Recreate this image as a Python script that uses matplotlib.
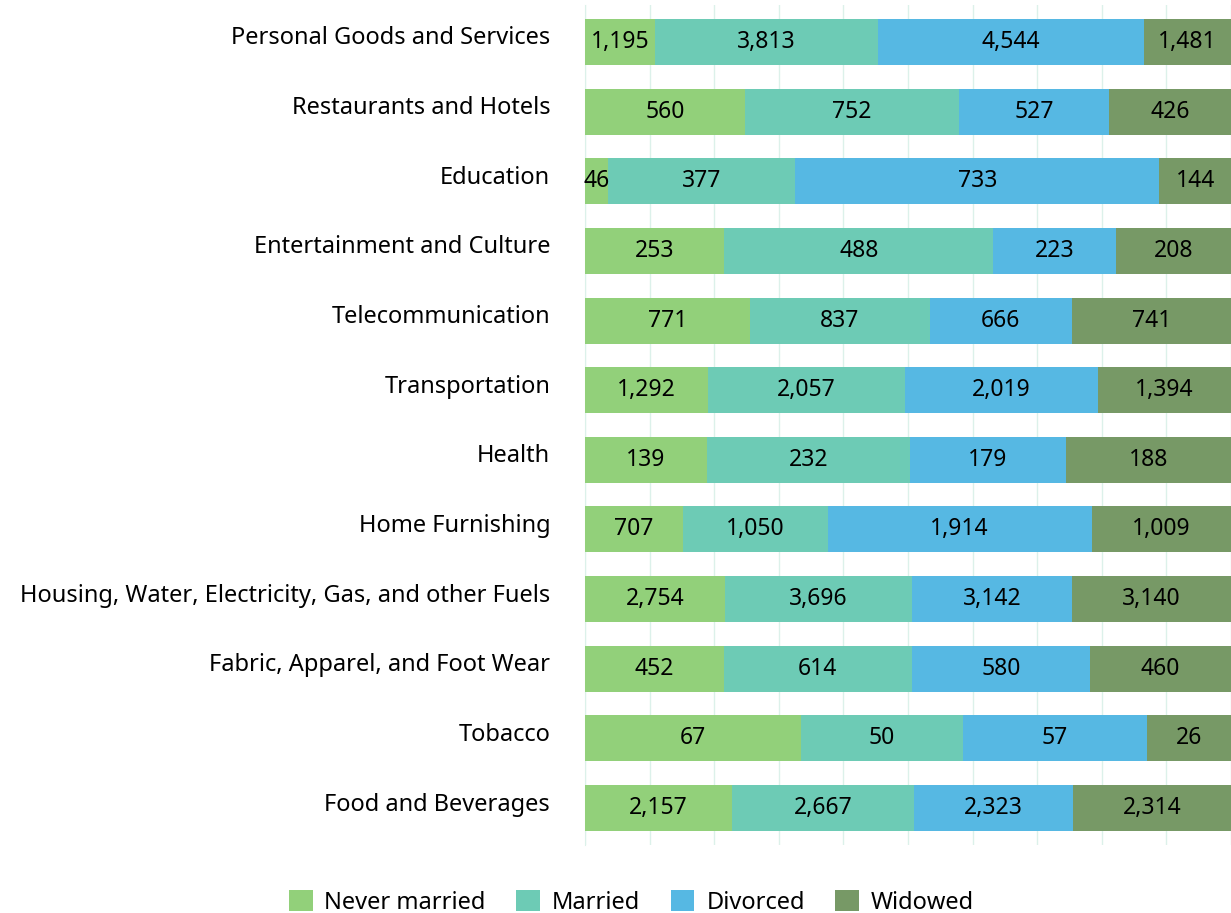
import matplotlib.pyplot as plt
import numpy as np

# categories listed bottom to top
categories = [
    "Food and Beverages",
    "Tobacco",
    "Fabric, Apparel, and Foot Wear",
    "Housing, Water, Electricity, Gas, and other Fuels",
    "Home Furnishing",
    "Health",
    "Transportation",
    "Telecommunication",
    "Entertainment and Culture",
    "Education",
    "Restaurants and Hotels",
    "Personal Goods and Services",
]

never_married = [2157, 67, 452, 2754, 707, 139, 1292, 771, 253, 46, 560, 1195]
married = [2667, 50, 614, 3696, 1050, 232, 2057, 837, 488, 377, 752, 3813]
divorced = [2323, 57, 580, 3142, 1914, 179, 2019, 666, 223, 733, 527, 4544]
widowed = [2314, 26, 460, 3140, 1009, 188, 1394, 741, 208, 144, 426, 1481]

series_names = ["Never married", "Married", "Divorced", "Widowed"]
colors = ["#92D07A", "#6DCBB5", "#56B8E3", "#779966"]

plt.rcParams['font.family'] = ['Noto Sans', 'DejaVu Sans']
FS = 17
FS_VAL = 16.5

fig = plt.figure(figsize=(12.31, 9.13), dpi=100)
ax = fig.add_axes([0.4752, 0.0745, 0.5248, 0.92])

data = np.array([never_married, married, divorced, widowed], dtype=float)
totals = data.sum(axis=0)
shares = data / totals

y = np.arange(len(categories))
left = np.zeros(len(categories))
for i, name in enumerate(series_names):
    ax.barh(y, shares[i], left=left, height=0.66, color=colors[i],
            label=name, zorder=3)
    for j in range(len(categories)):
        ax.text(left[j] + shares[i][j] / 2, y[j], f"{int(data[i][j]):,}",
                ha='center', va='center', fontsize=FS_VAL, color='black', zorder=4)
    left += shares[i]

ax.set_xlim(0, 1)
ax.set_ylim(-0.53, len(categories) - 0.47)
ax.set_xticks(np.arange(0, 1.01, 0.1))
ax.set_xticklabels([])
ax.tick_params(axis='x', length=0)
ax.tick_params(axis='y', length=0, pad=25)
ax.set_yticks(y + 0.05)
ax.set_yticklabels(categories, fontsize=FS, va='center')
ax.grid(axis='x', color='#DCF1EA', linewidth=1, zorder=0)
for side in ['top', 'right', 'bottom']:
    ax.spines[side].set_visible(False)
ax.spines['left'].set_color('#DCF1EA')

fig.legend(loc='lower center', bbox_to_anchor=(0.513, -0.025), ncol=4, frameon=False,
           fontsize=FS, handlelength=1.0, handleheight=1.0, columnspacing=1.3,
           handletextpad=0.5)

fig.savefig('out.png', dpi=100)
